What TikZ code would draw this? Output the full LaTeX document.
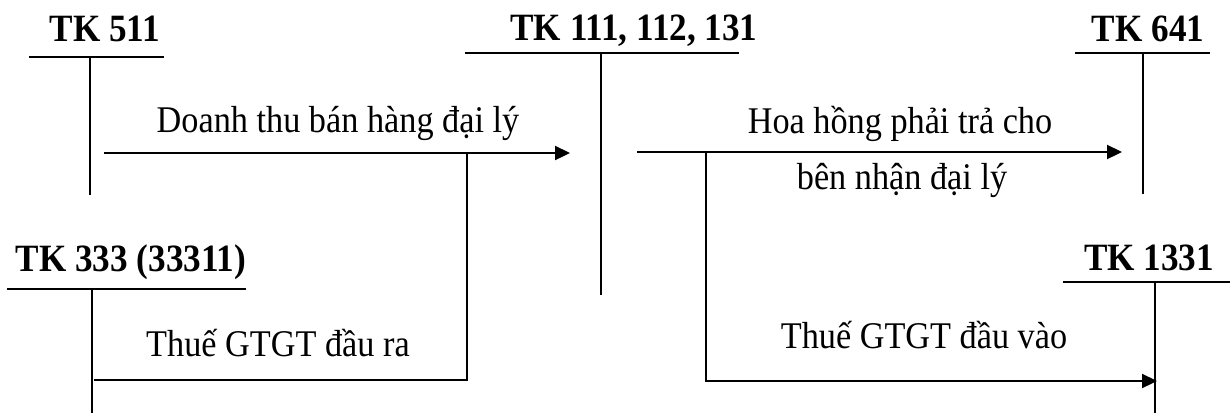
\documentclass[tikz,border=0pt]{standalone}
\usepackage{graphicx}
\usepackage{fontspec}
\setmainfont{Liberation Serif}
\usetikzlibrary{arrows.meta}
% slightly tall lettering
\newcommand{\talltext}[1]{\scalebox{1}[1.1]{#1}}
\begin{document}
\begin{tikzpicture}[x=0.02cm,y=-0.02cm,
  acct/.style={anchor=base,inner sep=0pt,font=\fontsize{20}{24}\selectfont\bfseries},
  lbl/.style={anchor=base,inner sep=0pt,font=\fontsize{19.5}{23}\selectfont},
  tline/.style={line width=1.1pt},
  flow/.style={line width=1.3pt},
  arr/.style={flow,-{Triangle[length=0.3cm,width=0.28cm]}}]
\useasboundingbox (0,0) rectangle (1232,413);

% account titles
\node[acct] (t511)  at (105,41)  {\talltext{TK 511}};
\node[acct] (t111)  at (634,40)  {\talltext{TK 111, 112, 131}};
\node[acct] (t641)  at (1148,41) {\talltext{TK 641}};
\node[acct] (t333)  at (131,271) {\talltext{TK 333 (33311)}};
\node[acct] (t1331) at (1149,270){\talltext{TK 1331}};

% T-account frames
\coordinate (a511l) at (29,57);   \coordinate (a511r) at (164,57);
\coordinate (a511t) at (90,57);   \coordinate (a511b) at (90,195);
\coordinate (a111l) at (465,53);  \coordinate (a111r) at (739,53);
\coordinate (a111t) at (601,53);  \coordinate (a111b) at (601,295);
\coordinate (a641l) at (1075,53); \coordinate (a641r) at (1210,53);
\coordinate (a641t) at (1143,53); \coordinate (a641b) at (1143,194);
\coordinate (a333l) at (7,289);   \coordinate (a333r) at (246,289);
\coordinate (a333t) at (92,289);  \coordinate (a333b) at (92,413);
\coordinate (a1331l) at (1063,282); \coordinate (a1331r) at (1230,282);
\coordinate (a1331t) at (1155,282); \coordinate (a1331b) at (1155,413);

\foreach \k in {511,111,641,333,1331}{
  \draw[tline] (a\k l) -- (a\k r);
  \draw[tline] (a\k t) -- (a\k b);
}

% flows
\coordinate (s1) at (104,153);  \coordinate (e1) at (570,153);
\coordinate (j1) at (467,153);  \coordinate (c1) at (467,380);
\coordinate (o1) at (94,380);
\coordinate (s2) at (637,152);  \coordinate (e2) at (1122,152);
\coordinate (j2) at (706,152);  \coordinate (c2) at (706,381);
\coordinate (e3) at (1157,381);

\draw[arr] (s1) -- (e1);
\draw[flow] (o1) -- (c1) -- (j1);
\draw[arr] (s2) -- (e2);
\draw[arr] (j2) -- (c2) -- (e3);

% labels
\node[lbl] (l1) at (338,132) {\talltext{Doanh thu bán hàng đại lý}};
\node[lbl] (l2) at (900,133) {\talltext{Hoa hồng phải trả cho}};
\node[lbl] (l3) at (902,189) {\talltext{bên nhận đại lý}};
\node[lbl] (l4) at (278,356) {\talltext{Thuế GTGT đầu ra}};
\node[lbl] (l5) at (924,348) {\talltext{Thuế GTGT đầu vào}};
\end{tikzpicture}
\end{document}
